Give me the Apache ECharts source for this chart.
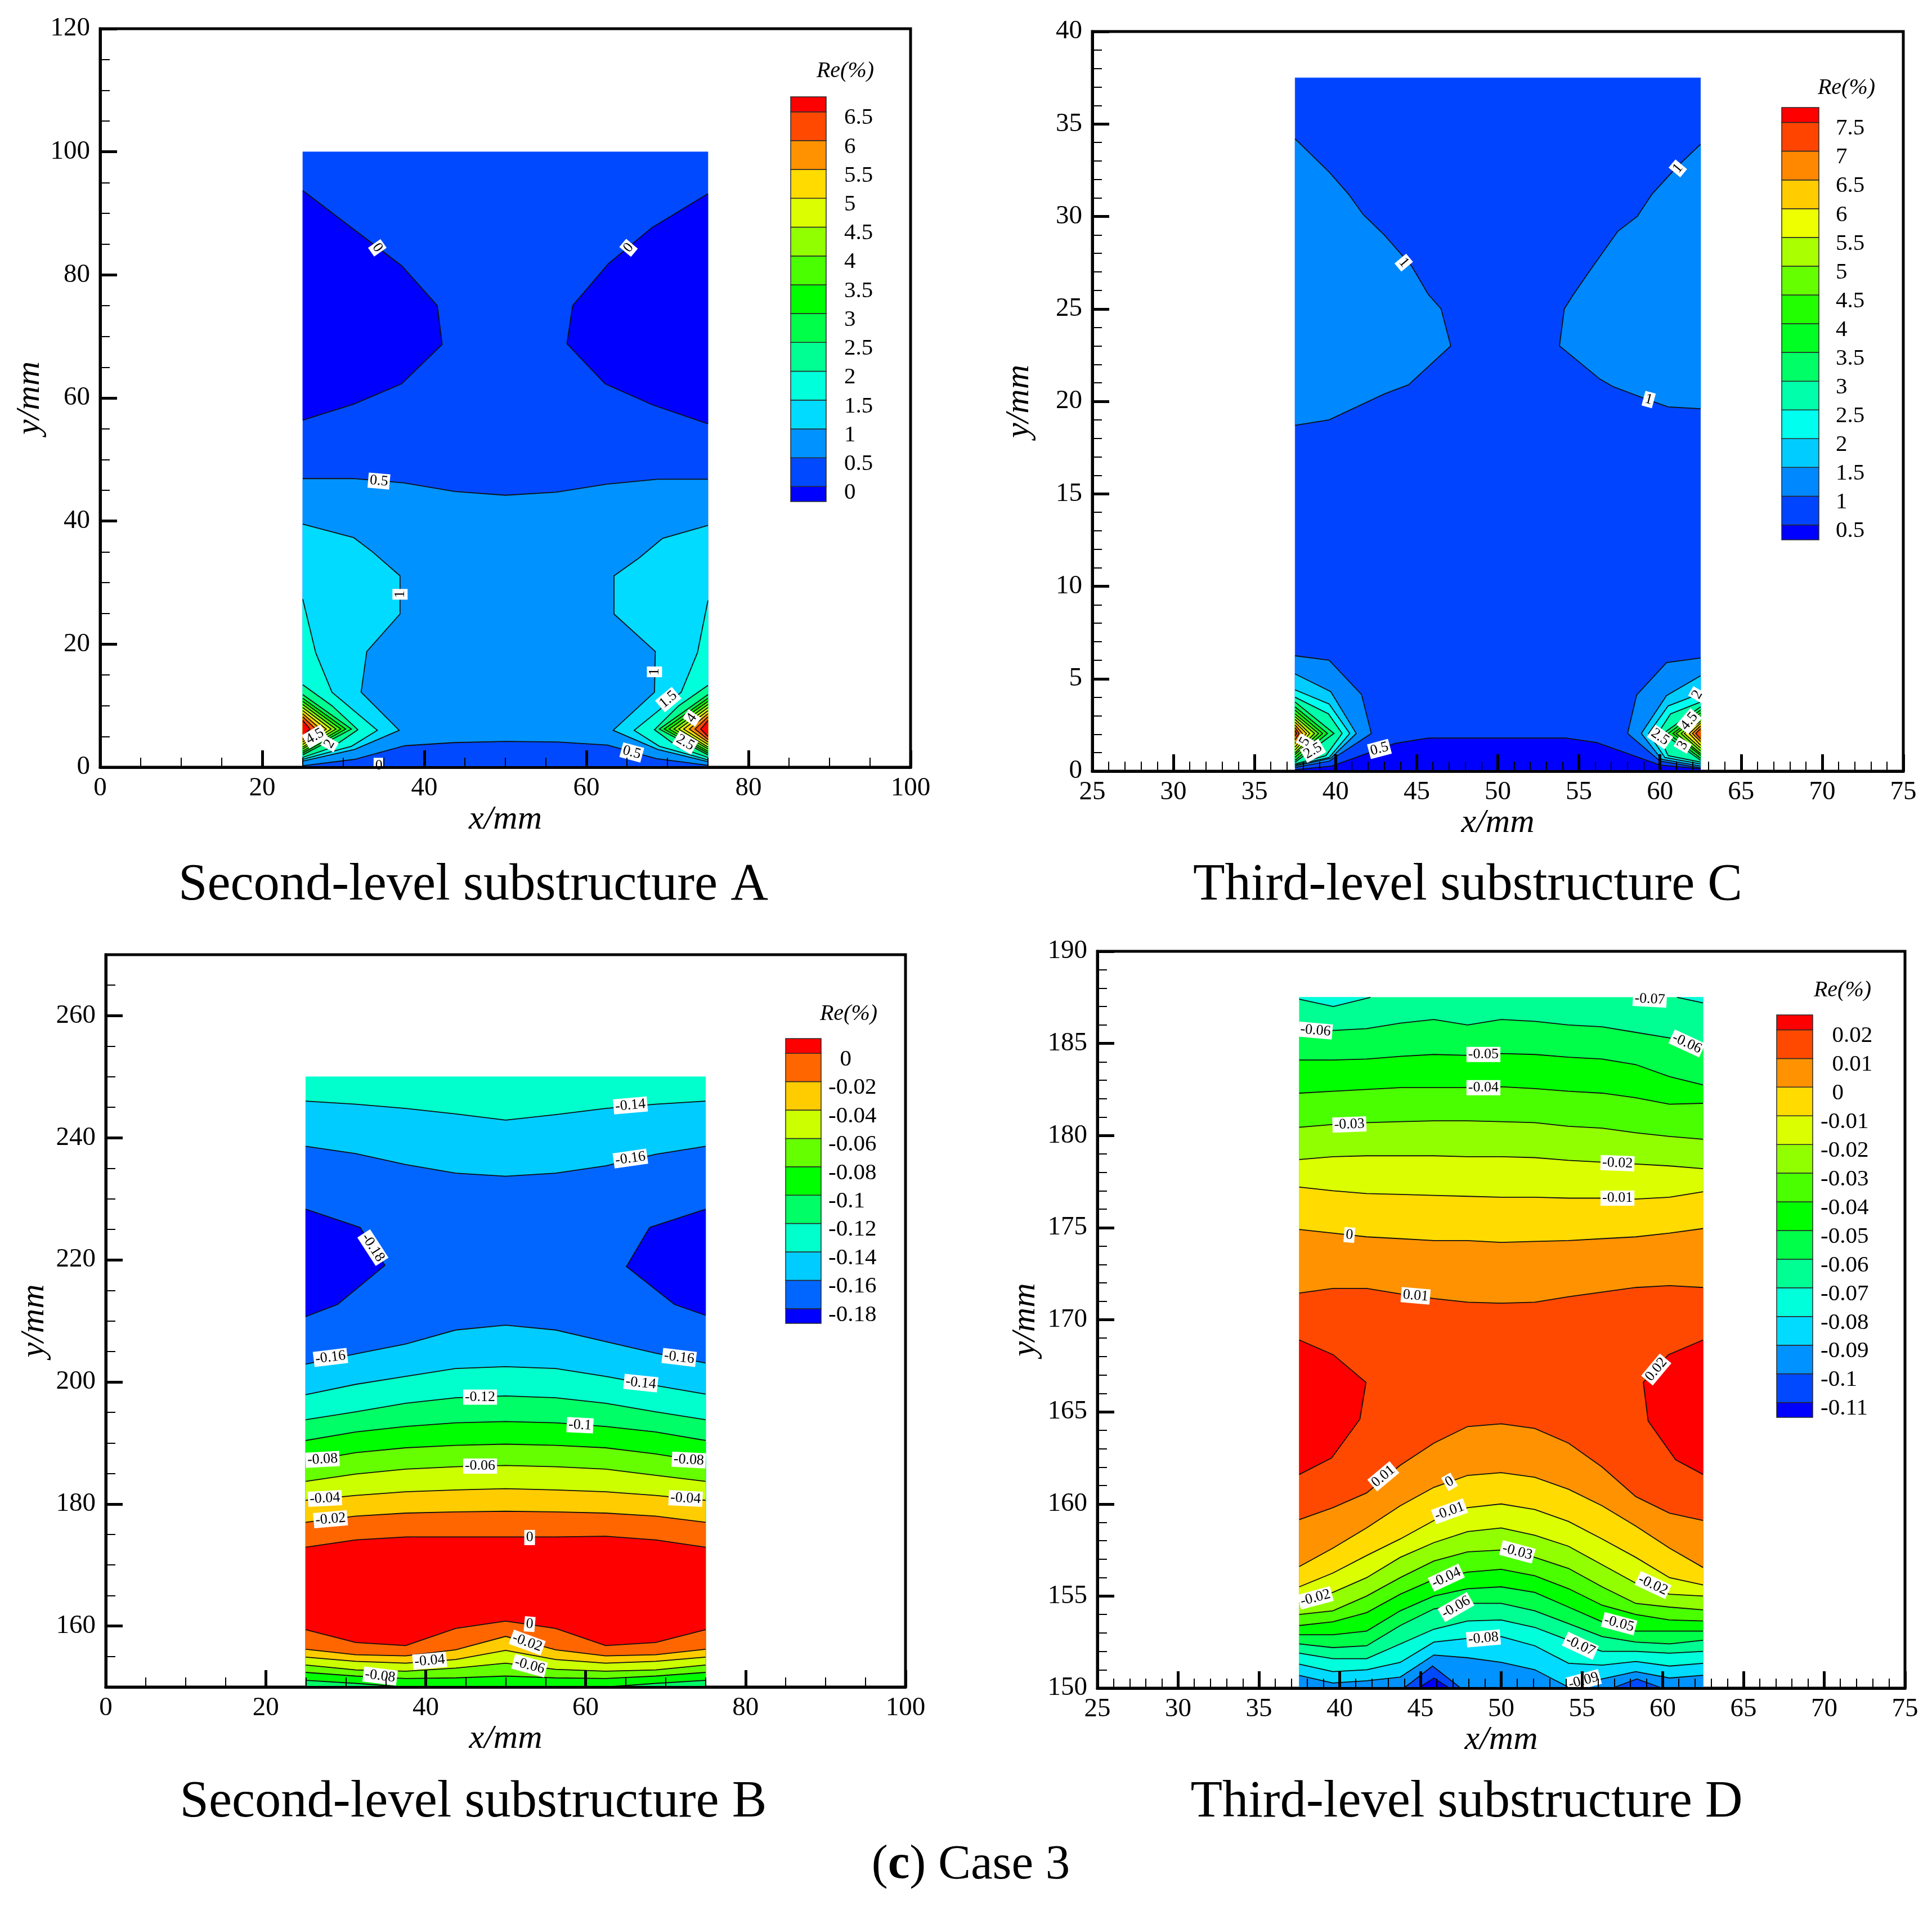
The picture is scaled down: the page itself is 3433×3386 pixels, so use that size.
<!DOCTYPE html>
<html><head><meta charset="utf-8">
<style>html,body{margin:0;padding:0;background:#fff}#c{width:3433px;height:3386px}</style>
<script src="https://cdn.jsdelivr.net/npm/echarts@6/dist/echarts.min.js"></script>
</head><body><div id="c"></div>
<script>
// Contour levels (legend values, ascending)
const levelsA=[0,0.5,1,1.5,2,2.5,3,3.5,4,4.5,5,5.5,6,6.5];
const levelsC=[0.5,1,1.5,2,2.5,3,3.5,4,4.5,5,5.5,6,6.5,7,7.5];
const levelsB=[-0.18,-0.16,-0.14,-0.12,-0.1,-0.08,-0.06,-0.04,-0.02,0];
const levelsD=[-0.11,-0.1,-0.09,-0.08,-0.07,-0.06,-0.05,-0.04,-0.03,-0.02,-0.01,0,0.01,0.02];

// Stations of the mesh, in mm
const xA=[25,31.25,37.5,43.75,50,56.25,62.5,68.75,75];
const xD=[37.5,39.58,41.67,43.75,45.83,47.92,50,52.08,54.17,56.25,58.33,60.42,62.5];
const zip=(xs,ys)=>xs.map((x,i)=>[x,ys[i]]);

// Contours: [band index, closing y (null = closes along the side), points in mm]
const domainA=[[25,0],[75,0],[75,100],[25,100]];
const contoursA=[
 [0,null,[[25,93.7],[31.3,87.4],[37.2,81.5],[41.6,75],[42.2,68.7],[37.2,62.3],[31.3,59],[25,56.4]]],
 [0,null,[[75,93.2],[68.1,87.7],[62.7,81.8],[58.3,75],[57.6,68.8],[62.3,62.3],[68.1,58.9],[75,55.8]]],
 [2,0,zip(xA,[46.9,46.9,46.2,44.8,44.2,44.7,46,46.8,46.8])],
 [1,0,[[25,0.24],[31.4,1.28],[37.6,3.5],[43.6,4],[50,4.2],[56.4,4.1],[62.6,3.6],[68.6,1.4],[75,0.3]]],
 [3,null,[[25,39.5],[31.3,37.3],[33.6,35],[37,31.1],[37,24.9],[32.9,18.8],[32.2,12.2],[36.9,6],[31.4,2.9],[25,1]]],
 [3,null,[[75,39.3],[69.4,37.2],[66.5,34],[63.4,31.1],[63.4,24.9],[68.5,18.8],[68.4,12.2],[63.3,6],[68.8,2.9],[75,0.9]]],
 [4,null,[[25,27.3],[26.6,18.6],[28.6,12.2],[34.2,6],[31,3.4],[25,1.3]]],
 [4,null,[[75,27.1],[73.7,18.6],[71.7,12.2],[65.9,6],[69,3.4],[75,1.2]]],
 [5,null,[[25,13.4],[28.6,10],[31.8,6.1],[28.6,3.2],[25,1.6]]],
 [5,null,[[75,13.3],[71.4,10],[68.4,6.1],[71.4,3.2],[75,1.6]]],
 [6,null,[[25,11.8],[31,6.2],[25,2]]],[6,null,[[75,11.8],[69,6.2],[75,2]]],
 [7,null,[[25,11.2],[30.3,6.2],[25,2.3]]],[7,null,[[75,11.2],[69.6,6.2],[75,2.3]]],
 [8,null,[[25,10.7],[29.7,6.2],[25,2.6]]],[8,null,[[75,10.7],[70.2,6.2],[75,2.6]]],
 [9,null,[[25,10.2],[29.1,6.2],[25,3]]],[9,null,[[75,10.2],[70.8,6.2],[75,3]]],
 [10,null,[[25,9.7],[28.5,6.2],[25,3.3]]],[10,null,[[75,9.7],[71.4,6.2],[75,3.3]]],
 [11,null,[[25,9.2],[27.9,6.2],[25,3.7]]],[11,null,[[75,9.2],[72,6.2],[75,3.7]]],
 [12,null,[[25,8.7],[27.2,6.2],[25,4.1]]],[12,null,[[75,8.7],[72.7,6.2],[75,4.1]]],
 [13,null,[[25,8.2],[26.6,6.2],[25,4.5]]],[13,null,[[75,8.2],[73.4,6.2],[75,4.5]]],
 [14,null,[[25,7.6],[25.9,6.2],[25,5]]],[14,null,[[75,7.6],[74.1,6.2],[75,5]]]
];
const labelsA=[["0",34.2,84.4,-55],["0",65.2,84.4,50],["0.5",34.4,46.5,-5],["1",37,28.1,90],["1",68.4,15.5,90],
 ["1.5",70.1,11,40],["4",73,8,55],["2.5",72.2,4,-30],["0.5",65.6,2.4,-15],["4.5",26.5,5,30],["2",28.3,3.8,60],["0",34.4,0.3,0]];

const domainC=[[37.5,0],[62.5,0],[62.5,37.5],[37.5,37.5]];
const contoursC=[
 [2,null,[[37.5,34.2],[39.6,32.4],[40.8,31.2],[41.7,30.1],[43,29],[44.7,27.3],[45.7,25.8],[46.5,25],[47.1,23],[44.5,20.9],[43,20.4],[39.6,19],[37.5,18.7]]],
 [2,null,[[62.5,33.9],[61.06,32.7],[59.5,31.2],[58.6,30],[57.4,29.2],[55.7,27.1],[54.6,25.7],[54.1,25],[53.8,23],[56.3,21.2],[57.1,20.8],[59.2,20.1],[60.5,19.7],[62.5,19.6]]],
 [0,0,[[37.5,0.08],[39.77,0.28],[43.66,1.5],[45.7,1.79],[54.2,1.79],[56.1,1.55],[60,0.33],[62.5,0.13]]],
 [2,null,[[37.5,6.24],[39.6,6],[41.6,4.14],[42.2,2.04],[39.6,0.54],[37.5,0.2]]],
 [2,null,[[62.5,6.12],[60.4,5.87],[58.56,4.12],[58,2.04],[60,0.54],[62.5,0.18]]],
 [3,null,[[37.5,5.26],[39.7,4.3],[41.27,2.04],[39.7,0.7],[37.5,0.28]]],
 [3,null,[[62.5,5.16],[60.4,4.09],[58.85,2.04],[60.1,0.64],[62.5,0.28]]],
 [4,null,[[37.5,4.4],[39.6,3.63],[40.87,2.04],[39.6,0.74],[37.5,0.34]]],
 [4,null,[[62.5,4.2],[60.5,3.53],[59.3,2.04],[60.3,0.74],[62.5,0.39]]],
 [5,null,[[37.5,4],[39.56,3.1],[40.4,2.04],[39.4,0.84],[37.5,0.39]]],
 [5,null,[[62.5,3.74],[60.65,3.1],[59.86,2.04],[60.5,0.84],[62.5,0.49]]],
 [6,null,[[37.5,3.74],[39.9,2.04],[37.5,0.49]]],[6,null,[[62.5,3.48],[60.2,2.04],[62.5,0.59]]],
 [7,null,[[37.5,3.48],[39.5,2.04],[37.5,0.59]]],[7,null,[[62.5,3.3],[60.5,2.04],[62.5,0.7]]],
 [8,null,[[37.5,3.3],[39.2,2.04],[37.5,0.75]]],[8,null,[[62.5,3.15],[60.8,2.04],[62.5,0.85]]],
 [9,null,[[37.5,3.1],[38.95,2.04],[37.5,0.9]]],[9,null,[[62.5,3],[61,2.04],[62.5,0.95]]],
 [10,null,[[37.5,2.95],[38.7,2.04],[37.5,1]]],[10,null,[[62.5,2.85],[61.3,2.04],[62.5,1.1]]],
 [11,null,[[37.5,2.8],[38.4,2.04],[37.5,1.15]]],[11,null,[[62.5,2.7],[61.5,2.04],[62.5,1.25]]],
 [12,null,[[37.5,2.65],[38.2,2.04],[37.5,1.3]]],[12,null,[[62.5,2.6],[61.8,2.04],[62.5,1.4]]],
 [13,null,[[37.5,2.5],[37.95,2.04],[37.5,1.5]]],[13,null,[[62.5,2.45],[62,2.04],[62.5,1.6]]],
 [14,null,[[37.5,2.35],[37.75,2.04],[37.5,1.7]]],[14,null,[[62.5,2.3],[62.2,2.04],[62.5,1.75]]],
 [15,null,[[37.5,2.2],[37.6,2.04],[37.5,1.9]]]
];
const labelsC=[["1",44.2,27.5,-50],["1",61.1,32.6,50],["1",59.3,20.1,-15],["0.5",42.7,1.2,15],["5",38.1,1.6,60],["2.5",38.6,1.1,30],
 ["2",62.3,4.14,60],["4.5",61.8,2.7,50],["2.5",60,1.85,-35],["3",61.4,1.4,60]];

const domainB=[[25,150],[75,150],[75,250],[25,250]];
const contoursB=[
 [2,150,zip(xA,[246,245.5,244.8,243.9,242.9,243.8,244.8,245.5,246])],
 [1,150,zip(xA,[238.6,237.4,235.6,234.2,233.7,234.2,235.4,237.3,238.6])],
 [0,null,[[25,228.3],[31.8,225.3],[34.9,219.1],[29,212.7],[25,210.7]]],
 [0,null,[[75,228.3],[68,225.3],[65.1,218.9],[71.1,212.7],[75,210.9]]],
 [2,150,zip(xA,[202.9,204.6,206.2,208.5,209.3,208.5,206.6,204.7,203.1])],
 [3,150,zip(xA,[197.9,199.6,200.9,202.2,202.5,202.2,200.9,199.4,198])],
 [4,150,zip(xA,[193.8,195.1,196.5,197.4,197.7,197.4,196.5,195.1,193.8])],
 [5,150,zip(xA,[190.4,191.8,192.7,193.3,193.5,193.3,192.7,191.8,190.4])],
 [6,150,zip(xA,[187,188.4,189.2,189.6,189.8,189.6,189.2,188.2,186.9])],
 [7,150,zip(xA,[183.7,184.9,185.7,186.1,186.3,186.1,185.7,184.7,183.7])],
 [8,150,zip(xA,[180.6,181.4,182,182.3,182.5,182.3,182,181.4,180.6])],
 [9,150,zip(xA,[177,178,178.5,178.7,178.8,178.7,178.5,178,177])],
 [10,150,zip(xA,[172.9,174.1,174.6,174.6,174.6,174.6,174.7,174.1,172.9])],
 [9,150,zip(xA,[159.4,157.3,156.8,159.6,160.8,159.6,156.8,157.3,159.4])],
 [8,150,zip(xA,[156.2,155.3,155.1,156.1,158.3,156.1,155.1,155.3,156.2])],
 [7,150,zip(xA,[154.9,154.2,153.9,154.5,156,154.5,153.9,154.2,154.9])],
 [6,150,zip(xA,[153.6,152.8,152.6,153.1,153.9,152.9,152.6,152.8,153.6])],
 [5,150,zip(xA,[152.4,151.8,151.4,151.5,151.8,151.5,151.4,151.8,152.4])],
 [4,150,[[25,151.1],[31.25,150.6],[37.5,150]]],
 [4,150,[[62.5,150],[68.75,150.6],[75,151.1]]]
];
const labelsB=[["-0.14",65.6,245.3,5],["-0.16",65.6,236.6,8],["-0.18",33.4,222,-57],["-0.16",28.1,204,7],["-0.16",71.7,204,-7],
 ["-0.14",66.9,199.8,-6],["-0.12",46.8,197.5,0],["-0.1",59.3,192.9,-3],["-0.08",27.1,187.3,3],["-0.08",72.9,187.2,-3],
 ["-0.06",46.8,186.2,0],["-0.04",27.4,180.9,3],["-0.04",72.5,180.9,-3],["-0.02",28.1,177.5,5],["0",53,174.5,0],["0",53,160.3,-5],
 ["-0.02",52.7,157.3,-20],["-0.04",40.5,154.3,5],["-0.06",53,153.5,-15],["-0.08",34.3,151.8,-7]];

const domainD=[[37.5,150],[62.5,150],[62.5,187.5],[37.5,187.5]];
const contoursD=[
 [4,187.5,[[37.5,187.4],[39.6,187],[41.9,187.5]]],
 [4,187.5,[[60.9,187.5],[62.5,187.2]]],
 [6,150,zip(xD,[185.5,185.7,185.8,186.1,186.3,186,186.3,186.2,186,185.9,185.6,185.3,184.7])],
 [7,150,zip(xD,[184.1,184.1,184.15,184.3,184.4,184.35,184.45,184.4,184.25,184.15,183.85,183.2,182.75])],
 [8,150,zip(xD,[182.3,182.4,182.5,182.6,182.6,182.6,182.65,182.55,182.4,182.3,182.05,181.7,181.75])],
 [9,150,zip(xD,[180.45,180.6,180.7,180.75,180.8,180.8,180.75,180.7,180.5,180.4,180.15,179.95,179.8])],
 [10,150,zip(xD,[178.7,178.85,178.9,178.9,178.9,178.85,178.85,178.8,178.65,178.55,178.45,178.35,178.2])],
 [11,150,zip(xD,[177.2,177,176.85,176.8,176.75,176.7,176.65,176.65,176.6,176.6,176.55,176.65,176.95])],
 [12,150,zip(xD,[174.9,174.7,174.5,174.4,174.3,174.3,174.2,174.25,174.3,174.4,174.5,174.7,174.95])],
 [13,150,zip(xD,[171.45,171.7,171.7,171.4,171.15,170.95,170.9,170.95,171.25,171.5,171.75,171.85,171.75])],
 [14,null,[[37.5,168.9],[39.6,168.1],[41.63,166.6],[41.25,164.6],[39.5,162.5],[37.5,161.6]]],
 [14,null,[[62.5,168.9],[60.35,168.1],[58.8,166.6],[59.1,164.5],[60.8,162.4],[62.5,161.6]]],
 [12,150,zip(xD,[159.15,159.8,160.6,162.1,163.3,164.2,164.35,164.1,163.3,162,160.4,159.5,159.1])],
 [11,150,zip(xD,[156.6,157.6,158.7,159.9,160.9,161.55,161.7,161.45,160.8,159.9,158.8,157.6,156.55])],
 [10,150,zip(xD,[155.5,156.25,157.2,158.1,159.1,159.8,160,159.7,159.05,158.1,157.1,156,155.6])],
 [9,150,zip(xD,[154.6,155.2,156,157.1,157.9,158.5,158.7,158.3,157.7,156.7,155.7,155.1,155])],
 [8,150,zip(xD,[154,154.2,155,156,156.9,157.4,157.5,157.1,156.5,155.5,154.6,154.4,154.25])],
 [7,150,zip(xD,[153.4,153.6,154.1,155.1,155.9,156.3,156.45,156.1,155.4,154.5,154,153.7,153.65])],
 [6,150,zip(xD,[152.9,152.9,153.1,154.2,155,155.4,155.5,155.2,154.4,153.6,153.1,153.1,153.1])],
 [5,150,zip(xD,[152.4,152.2,152.3,153.4,154.3,154.6,154.6,154.2,153.5,152.8,152.5,152.4,152.6])],
 [4,150,zip(xD,[151.9,151.6,151.6,152.4,153.2,153.65,153.7,153.3,152.6,152,152,151.9,152])],
 [3,150,zip(xD,[151.3,150.9,151,151.4,152.5,152.7,152.8,152.3,151.35,151.25,151.45,151.2,151.35])],
 [2,150,zip(xD,[150.69,150.28,150.4,150.6,151.8,151.65,151.4,151,150.05,150.5,150.9,150.55,150.7])],
 [1,150,[[43.97,150],[45.75,151.2],[47.5,150]]],
 [0,150,[[44.86,150],[45.83,150.55],[46.8,150]]],
 [1,150,[[56.86,150],[58.4,150.5],[59.97,150]]]
];
const labelsD=[["-0.07",59.2,187.4,-3],["-0.06",38.5,185.7,-5],["-0.06",61.5,185,-25],["-0.05",48.9,184.4,0],["-0.04",48.9,182.6,0],
 ["-0.03",40.6,180.6,2],["-0.02",57.2,178.5,-2],["-0.01",57.2,176.6,0],["0",40.6,174.6,-5],["0.01",44.7,171.3,-5],["0.02",59.6,167.3,50],
 ["0.01",42.7,161.5,40],["0",46.8,161.2,30],["-0.01",46.8,159.6,20],["-0.03",51,157.4,-15],["-0.04",46.6,156,25],["-0.06",47.2,154.4,30],
 ["-0.08",48.9,152.7,5],["-0.02",38.5,154.9,15],["-0.02",59.4,155.6,-25],["-0.05",57.3,153.5,-15],["-0.07",54.9,152.3,-25],["-0.09",55.1,150.4,15]];

// Panels: layout + references to the data
const panels=[
 {levels:levelsA,domain:domainA,base:1,contours:contoursA,labels:labelsA,pad:'',
  grid:[178,51,1440,1312],x:[0,100,20,5],y:[0,120,20,5],legend:[1405,172,63,719],lm:32,
  title:["Second-level substructure A",841,1574],re:[1502,126],xn:[896,1456],yn:[53,707]},
 {levels:levelsC,domain:domainC,base:1,contours:contoursC,labels:labelsC,pad:'',
  grid:[1941,56,1441,1314],x:[25,75,5,1],y:[0,40,5,1],legend:[3166,191,66,768],lm:30,
  title:["Third-level substructure C",2608,1574],re:[3281,156],xn:[2658,1460],yn:[1811,707]},
 {levels:levelsB,domain:domainB,base:3,contours:contoursB,labels:labelsB,pad:'  ',
  grid:[188,1696,1421,1301],x:[0,100,20,5],y:[150,270,20,5],yTicks:[160,180,200,220,240,260],legend:[1396,1845,63,506],lm:13,
  title:["Second-level substructure B",841,3203],re:[1508,1801],xn:[896,3087],yn:[61,2343]},
 {levels:levelsD,domain:domainD,base:5,contours:contoursD,labels:labelsD,pad:'  ',
  grid:[1950,1690,1435,1309],x:[25,75,5,1],y:[150,190,5,1],legend:[3157,1803,64,715],lm:14,
  title:["Third-level substructure D",2606,3203],re:[3274,1759],xn:[2663,3089],yn:[1822,2343]}
];

const FONT='Liberation Serif';
function rainbow(i,n){
 const t=i/(n-1)*4,h=v=>Math.round(v*255);
 let c;
 if(t<=1)c=[0,t,1];else if(t<=2)c=[0,1,2-t];else if(t<=3)c=[t-2,1,0];else c=[1,4-t,0];
 return 'rgb('+h(c[0])+','+h(c[1])+','+h(c[2])+')';
}
const grids=[],xAxes=[],yAxes=[],series=[],graphics=[];
function textEl(text,x,y,font,extra){
 return {type:'text',x:x,y:y,z:20,style:Object.assign({text:text,font:font,fill:'#000',align:'center',verticalAlign:'middle'},extra||{})};
}
panels.forEach(p=>{
 const n=p.levels.length+1,color=i=>rainbow(i,n);
 const g=grids.length;
 grids.push({left:p.grid[0],top:p.grid[1],width:p.grid[2],height:p.grid[3],show:true,borderColor:'#000',borderWidth:5,backgroundColor:'#fff',z:0});
 const mk=(a,pos,major,cv,dim)=>({type:'value',gridIndex:g,min:a[0],max:a[1],interval:major?a[2]:a[3],position:pos,z:6,
   axisLine:{show:major,onZero:false,lineStyle:{color:'#000',width:5}},
   axisTick:Object.assign({show:true,inside:true,length:major?30:17,lineStyle:{color:'#000',width:major?5:2}},(major&&cv)?{customValues:cv}:{}),
   axisLabel:Object.assign({show:major,color:'#000',fontFamily:FONT,fontSize:47,margin:dim==='x'?14:18,hideOverlap:false,showMinLabel:true,showMaxLabel:true},(major&&cv)?{customValues:cv}:{}),
   splitLine:{show:false},minorTick:{show:false},
   name:major?(dim==='x'?'x/mm':'y/mm'):'',nameLocation:'middle',nameGap:dim==='x'?(p.xn[1]-(p.grid[1]+p.grid[3])-30):(p.grid[0]-p.yn[0]-30),
   nameTextStyle:{color:'#000',fontFamily:FONT,fontStyle:'italic',fontSize:60},nameRotate:dim==='x'?0:90});
 const xi=xAxes.length,yi=yAxes.length;
 xAxes.push(mk(p.x,'bottom',true,null,'x'),mk(p.x,'bottom',false,null,'x'));
 yAxes.push(mk(p.y,'left',true,p.yTicks,'y'),mk(p.y,'left',false,null,'y'));
 // contours
 const layers=[{band:p.base,closeY:null,pts:p.domain,noLine:true}].concat(p.contours.map(c=>({band:c[0],closeY:c[1],pts:c[2]})));
 series.push({type:'custom',xAxisIndex:xi,yAxisIndex:yi,z:2,clip:false,silent:true,animation:false,
  data:layers.map((_,i)=>[i]),
  renderItem:(params,api)=>{
   const L=layers[api.value(0)];
   let fill=L.pts.slice();
   if(L.closeY!==null){const a=L.pts[0],b=L.pts[L.pts.length-1];fill=fill.concat([[b[0],L.closeY],[a[0],L.closeY]]);}
   const children=[{type:'polygon',shape:{points:fill.map(q=>api.coord(q))},style:{fill:color(L.band),stroke:color(L.band),lineWidth:0.6}}];
   if(!L.noLine)children.push({type:'polyline',shape:{points:L.pts.map(q=>api.coord(q))},style:{fill:null,stroke:'#101010',lineWidth:1.8}});
   return {type:'group',children:children};
  }});
 // in-plot contour labels
 series.push({type:'custom',xAxisIndex:xi,yAxisIndex:yi,z:3,clip:false,silent:true,animation:false,
  data:p.labels.map((l,i)=>[i]),
  renderItem:(params,api)=>{
   const l=p.labels[api.value(0)],c=api.coord([l[1],l[2]]);
   return {type:'text',x:c[0],y:c[1],rotation:l[3]*Math.PI/180,
    style:{text:l[0],font:'26px '+FONT,fill:'#000',align:'center',verticalAlign:'middle',backgroundColor:'#fff',padding:[1,3,0,3]}};
  }});
 // legend colour bar
 const lg=grids.length,lx=xAxes.length,ly=yAxes.length,step=p.levels[1]-p.levels[0];
 const lmin=p.levels[0]-0.52*step,lmax=p.levels[n-2]+0.52*step;
 grids.push({left:p.legend[0],top:p.legend[1],width:p.legend[2],height:p.legend[3],show:false});
 xAxes.push({type:'value',gridIndex:lg,min:0,max:1,show:false});
 yAxes.push({type:'value',gridIndex:lg,min:lmin,max:lmax,position:'right',z:6,
  axisLine:{show:false},axisTick:{show:false},splitLine:{show:false},
  axisLabel:{show:true,customValues:p.levels,color:'#000',fontFamily:FONT,fontSize:41,margin:p.lm,align:'left',verticalAlign:'top',lineHeight:22,hideOverlap:false,
   formatter:v=>(v>=0?p.pad:'')+String(+v.toFixed(2))}});
 series.push({type:'custom',xAxisIndex:lx,yAxisIndex:ly,z:2,clip:false,silent:true,animation:false,
  data:Array.from({length:n},(_,i)=>[i]),
  renderItem:(params,api)=>{
   const i=api.value(0),lo=i===0?lmin:p.levels[i-1],hi=i===n-1?lmax:p.levels[i];
   const pts=[[0,lo],[1,lo],[1,hi],[0,hi]].map(q=>api.coord(q));
   return {type:'polygon',shape:{points:pts},style:{fill:color(i),stroke:'#2a2a2a',lineWidth:1.5}};
  }});
 graphics.push(textEl(p.title[0],p.title[1],p.title[2],'92.5px '+FONT));
 graphics.push(textEl('Re(%)',p.re[0],p.re[1],'italic 40px '+FONT));
});
graphics.push(textEl('{a|(}{b|c}{a|) Case 3}',1725,3314,'87px '+FONT,{rich:{a:{font:'87px '+FONT,fill:'#000'},b:{font:'bold 87px '+FONT,fill:'#000'}}}));

const chart=echarts.init(document.getElementById('c'),null,{renderer:'canvas',width:3433,height:3386});
chart.setOption({animation:false,backgroundColor:'#fff',grid:grids,xAxis:xAxes,yAxis:yAxes,series:series,graphic:{elements:graphics}});
</script></body></html>
